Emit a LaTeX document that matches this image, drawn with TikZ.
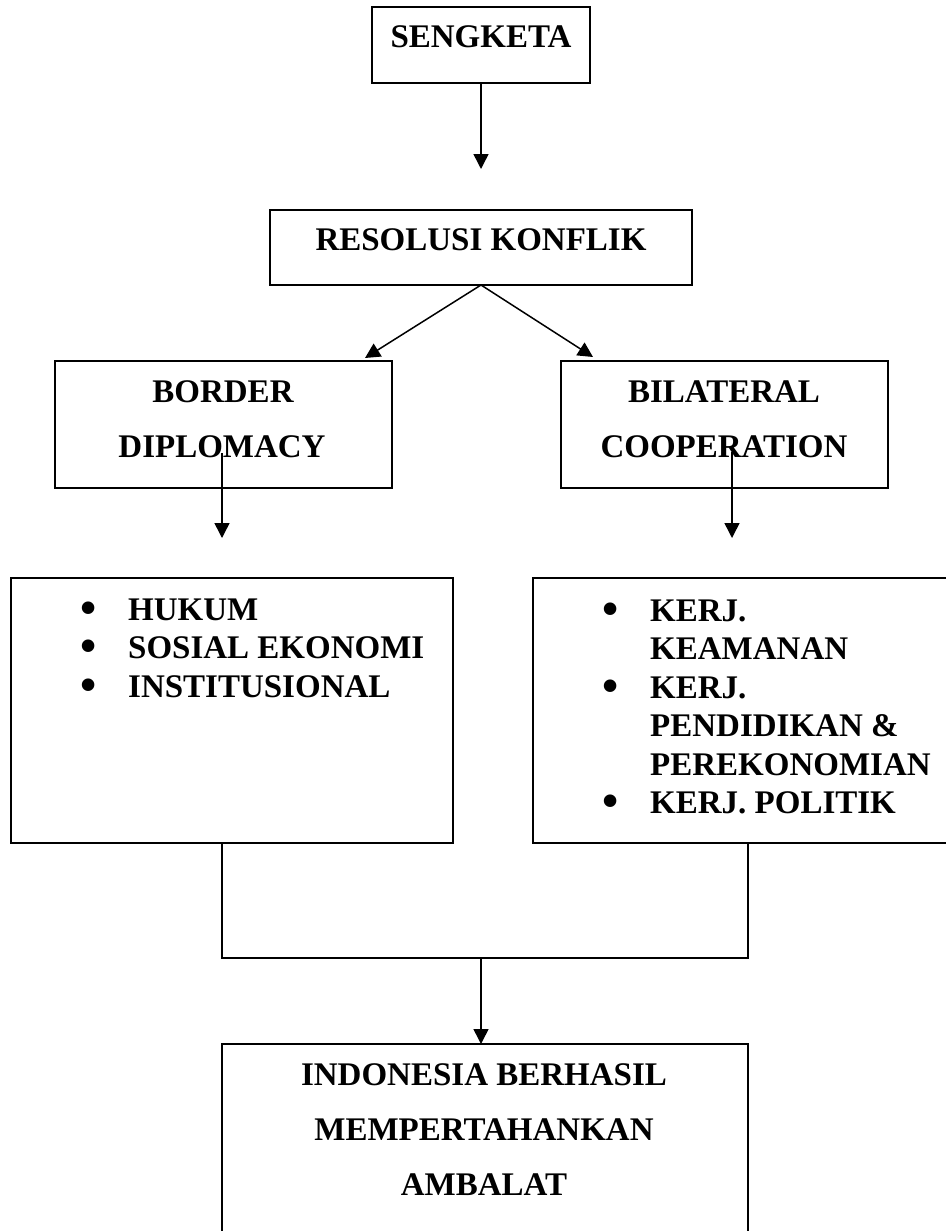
\documentclass[tikz,border=0pt]{standalone}
\usepackage{fontspec}
\setmainfont{Liberation Serif}
\usetikzlibrary{arrows.meta}
\newcommand{\bigbul}{\raisebox{-3pt}[0pt][0pt]{\scalebox{1.4}{•}}}
\tikzset{
  box/.style={draw, line width=1.5pt, inner sep=0pt, outer sep=0pt, rectangle},
  txt/.style={font=\fontsize{33}{38.5}\selectfont\bfseries, inner sep=0pt, anchor=base},
  arr/.style={line width=1.5pt, -{Triangle[length=15pt,width=15pt]}},
  ln/.style={line width=1.5pt}
}
\begin{document}
\begin{tikzpicture}[x=1pt,y=-1pt]
\useasboundingbox (0,0) rectangle (945,1231);
% boxes
\node[box, minimum width=218pt, minimum height=76pt] (seng) at (481,45) {};
\node[box, minimum width=422pt, minimum height=75pt] (reso) at (481,247.5) {};
\node[box, minimum width=337pt, minimum height=127pt] (bord) at (223.5,424.5) {};
\node[box, minimum width=327pt, minimum height=127pt] (bila) at (724.5,424.5) {};
\node[box, minimum width=442pt, minimum height=265pt] (lbox) at (232,710.5) {};
\node[box, minimum width=422pt, minimum height=265pt] (rbox) at (744,710.5) {};
\node[box, minimum width=526pt, minimum height=201pt] (res) at (485,1144.5) {};
% texts
\node[txt] (t1) at (481,48) {SENGKETA};
\node[txt] (t2) at (481,250) {RESOLUSI KONFLIK};
\node[txt] (t3) at (223,402) {BORDER};
\node[txt] (t4) at (222,457) {DIPLOMACY};
\node[txt] (t5) at (724,402) {BILATERAL};
\node[txt] (t6) at (724,457) {COOPERATION};
\node[txt] (t7) at (484,1085) {INDONESIA BERHASIL};
\node[txt] (t8) at (484,1140) {MEMPERTAHANKAN};
\node[txt] (t9) at (484,1195) {AMBALAT};
\node[txt, anchor=base west] (l1) at (80,620) {\begin{tabular}[t]{@{}p{48pt}@{}l@{}}
\bigbul&HUKUM\\
\bigbul&SOSIAL EKONOMI\\
\bigbul&INSTITUSIONAL
\end{tabular}};
\node[txt, anchor=base west] (r1) at (602,621) {\begin{tabular}[t]{@{}p{48pt}@{}l@{}}
\bigbul&KERJ.\\
&KEAMANAN\\
\bigbul&KERJ.\\
&PENDIDIKAN \&\\
&PEREKONOMIAN\\
\bigbul&KERJ. POLITIK
\end{tabular}};
% connectors
\coordinate (a1) at (481,169);
\draw[arr] (seng.south) -- (a1);
\coordinate (a2) at (365,358);
\coordinate (a3) at (593,357);
\draw[arr] (reso.south) -- (a2);
\draw[arr] (reso.south) -- (a3);
\coordinate (b1s) at (222,453);
\coordinate (b1e) at (222,538);
\coordinate (b2s) at (732,452);
\coordinate (b2e) at (732,538);
\draw[arr] (b1s) -- (b1e);
\draw[arr] (b2s) -- (b2e);
\coordinate (c1) at (222,843);
\coordinate (c2) at (222,958);
\coordinate (c3) at (748,958);
\coordinate (c4) at (748,843);
\draw[ln] (c1) -- (c2) -- (c3) -- (c4);
\coordinate (d1) at (481,958);
\draw[arr] (d1) -- (res.north -| d1);
\end{tikzpicture}
\end{document}
